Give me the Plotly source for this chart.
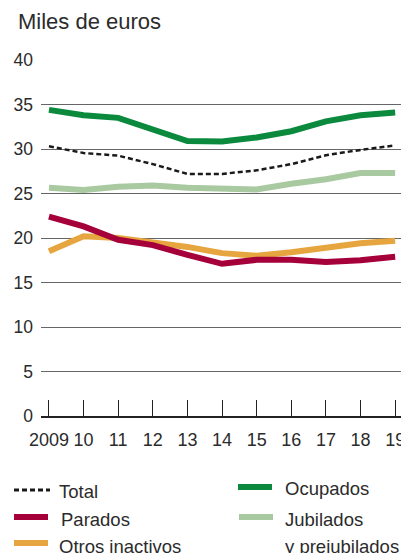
import plotly.graph_objects as go

years = [2009, 2010, 2011, 2012, 2013, 2014, 2015, 2016, 2017, 2018, 2019]
x_tick_labels = ["2009", "10", "11", "12", "13", "14", "15", "16", "17", "18", "19"]
y_ticks = [0, 5, 10, 15, 20, 25, 30, 35, 40]

total = [30.3, 29.55, 29.25, 28.3, 27.2, 27.2, 27.6, 28.3, 29.3, 29.9, 30.4]
ocupados = [34.4, 33.8, 33.5, 32.2, 30.9, 30.85, 31.3, 32.0, 33.1, 33.8, 34.1]
parados = [22.4, 21.3, 19.8, 19.2, 18.1, 17.1, 17.55, 17.55, 17.3, 17.5, 17.9]
otros = [18.5, 20.2, 20.0, 19.5, 19.0, 18.3, 18.0, 18.4, 18.9, 19.4, 19.7]
jubilados = [25.65, 25.4, 25.75, 25.9, 25.65, 25.5, 25.45, 26.1, 26.6, 27.3, 27.3]

colors = {"Total": "#1a1a1a", "Ocupados": "#0b8a3e", "Parados": "#a5003a",
          "Jubilados": "#a9c9a1", "Otros": "#e6a53e"}

FONT = "Liberation Sans, Arial, sans-serif"
TXT = "#2b2b2b"

fig = go.Figure()
fig.add_trace(go.Scatter(x=years, y=jubilados, mode="lines", name="Jubilados",
                         line=dict(color=colors["Jubilados"], width=6)))
fig.add_trace(go.Scatter(x=years, y=otros, mode="lines", name="Otros inactivos",
                         line=dict(color=colors["Otros"], width=6)))
fig.add_trace(go.Scatter(x=years, y=parados, mode="lines", name="Parados",
                         line=dict(color=colors["Parados"], width=6)))
fig.add_trace(go.Scatter(x=years, y=ocupados, mode="lines", name="Ocupados",
                         line=dict(color=colors["Ocupados"], width=6)))
fig.add_trace(go.Scatter(x=years, y=total, mode="lines", name="Total",
                         line=dict(color=colors["Total"], width=2.5, dash="5px,3px")))

OFF = 8  # page body margin
W, H = 409 - OFF, 553 - OFF
# plot area in page pixels: x 41..409, y 60..416
L, R, T, B = 41 - OFF, 0, 60 - OFF, H - (416 - OFF)
pw, ph = W - L - R, H - T - B

def px(xp):
    return (xp - OFF - L) / pw

def py(yp):
    return (H - B - (yp - OFF)) / ph

shapes = []
annotations = []
legend_items = [
    ("Total", colors["Total"], 14, 50, 490, 57, 491, True),
    ("Ocupados", colors["Ocupados"], 238, 272, 487, 283, 488, False),
    ("Parados", colors["Parados"], 14, 48, 517, 59, 519, False),
    ("Jubilados", colors["Jubilados"], 239, 273, 517, 283, 519, False),
    ("Otros inactivos", colors["Otros"], 14, 48, 543, 57, 546, False),
]
LFS = 18.5
for label, col, x0, x1, ly, tx, ty, dash in legend_items:
    shapes.append(dict(type="line", xref="paper", yref="paper",
                       x0=px(x0), x1=px(x1), y0=py(ly), y1=py(ly),
                       line=dict(color=col, width=3 if dash else 6,
                                 dash="5px,3px" if dash else "solid")))
    annotations.append(dict(text=label, xref="paper", yref="paper", x=px(tx), y=py(ty),
                            xanchor="left", yanchor="middle", showarrow=False,
                            font=dict(family=FONT, size=LFS, color=TXT)))
annotations.append(dict(text="y prejubilados", xref="paper", yref="paper", x=px(283), y=py(546),
                        xanchor="left", yanchor="middle", showarrow=False,
                        font=dict(family=FONT, size=LFS, color=TXT)))
annotations.append(dict(text="Miles de euros", xref="paper", yref="paper", x=px(16), y=py(21),
                        xanchor="left", yanchor="middle", showarrow=False,
                        font=dict(family=FONT, size=22, color=TXT)))

fig.update_layout(
    width=W, height=H,
    margin=dict(l=L, r=R, t=T, b=B, pad=0),
    paper_bgcolor="white", plot_bgcolor="white",
    showlegend=False,
    font=dict(family=FONT, size=18, color=TXT),
    shapes=shapes, annotations=annotations,
    xaxis=dict(range=[2008.77, 2019.4], tickmode="array", tickvals=years, ticktext=x_tick_labels,
               ticks="inside", ticklen=16, tickwidth=1, tickcolor="#222",
               showgrid=False, zeroline=False, showline=True, linecolor="#222", linewidth=1.5,
               ticklabelstandoff=7,
               tickfont=dict(family=FONT, size=18, color=TXT)),
    yaxis=dict(range=[0, 40], tickmode="array", tickvals=y_ticks,
               showgrid=True, gridcolor="#666", gridwidth=1, zeroline=False,
               ticks="", ticklabelstandoff=7,
               tickfont=dict(family=FONT, size=17.5, color=TXT)),
)

fig.write_html("out.html")
